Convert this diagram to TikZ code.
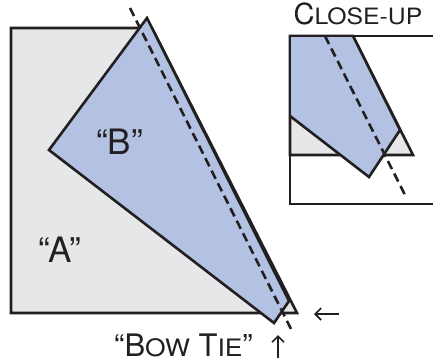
\documentclass[tikz,border=0pt]{standalone}
\usepackage{fontspec}
\setmainfont{TeX Gyre Heros}
\usepackage{xcolor}
\usepackage{tikz}
\usetikzlibrary{arrows.meta}
\definecolor{azul}{HTML}{B3C1E3}
\definecolor{gris}{HTML}{E6E7E8}
\definecolor{tinta}{HTML}{231F20}
\newcommand{\letragrande}{\fontsize{35}{35}\selectfont}
\newcommand{\letramedia}{\fontsize{29}{29}\selectfont}
\newcommand{\letralazo}{\fontsize{31}{31}\selectfont}
\newcommand{\versalita}{\fontsize{22.5}{22.5}\selectfont\addfontfeatures{FakeStretch=1.1}}
\newcommand{\versalitalazo}{\fontsize{24}{24}\selectfont\addfontfeatures{FakeStretch=1.1}}

\begin{document}
\begin{tikzpicture}[x=1pt, y=-1pt, text=tinta,
      borde/.style={draw=tinta, line width=2.6pt},
      corte/.style={draw=tinta, line width=2.6pt, dash pattern=on 9pt off 5pt},
      flecha/.style={draw=tinta, line width=1.7pt, -{Straight Barb[length=6pt, width=12pt]}}]
    \useasboundingbox (0,0) rectangle (433,362);
    % vista completa
    \coordinate (a1) at (11,28);  \coordinate (a2) at (152,28);
    \coordinate (a3) at (297,313); \coordinate (a4) at (11,313);
    \coordinate (b1) at (147,18);  \coordinate (b2) at (289,301);
    \coordinate (b3) at (274,323); \coordinate (b4) at (49,150);
    \filldraw[borde, fill=gris] (a1) -- (a2) -- (a3) -- (a4) -- cycle;
    \filldraw[borde, fill=azul] (b1) -- (b2) -- (b3) -- (b4) -- cycle;
    \coordinate (c1) at (130,8); \coordinate (c2) at (292,331);
    \draw[corte] (c1) -- (c2);
    \node[font=\letragrande, anchor=base] (la) at (60,262) {``A''};
    \node[font=\letragrande, anchor=base] (lb) at (119.5,154) {``B''};
    \node[font=\letralazo, anchor=base] (lt) at (183.5,356) {``B{\versalitalazo OW} T{\versalitalazo IE}''};
    % flechas
    \coordinate (f1) at (278,358); \coordinate (f2) at (278,335);
    \coordinate (g1) at (339,314); \coordinate (g2) at (314,314);
    \draw[flecha] (f1) -- (f2);
    \draw[flecha] (g1) -- (g2);
    % detalle
    \coordinate (k1) at (290,36); \coordinate (k2) at (433,36);
    \coordinate (k3) at (290,204); \coordinate (k4) at (433,204);
    \filldraw[borde, fill=gris] (k1) -- (353,36) -- (413,155) -- (290,155) -- cycle;
    \fill[azul] (k1) -- (353,36) -- (400,130) -- (369,177) -- (290,116) -- cycle;
    \draw[borde] (353,36) -- (400,130) -- (369,177) -- (290,116);
    \draw[corte] (325,36) -- (405,195);
    \draw[borde] (k2) -- (k1) -- (k3) -- (k4);
    \node[font=\letramedia, anchor=base] (lc) at (358,24) {C{\versalita LOSE-UP}};
\end{tikzpicture}
\end{document}
